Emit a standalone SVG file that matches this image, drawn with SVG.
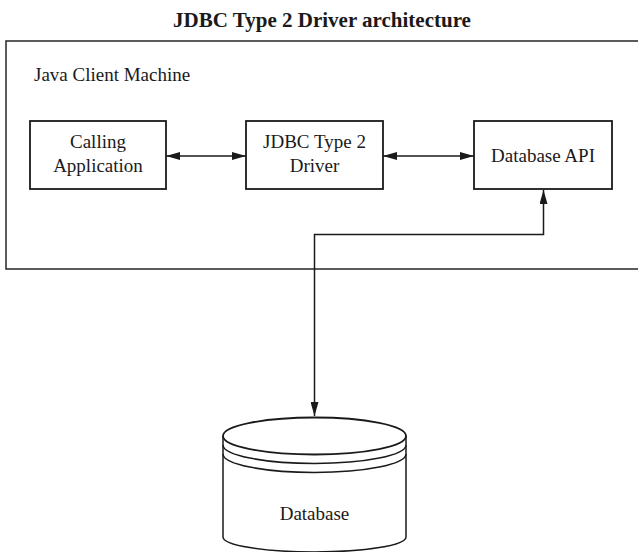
<svg xmlns="http://www.w3.org/2000/svg" width="638" height="552" viewBox="0 0 638 552">
<style>
.t{font-family:"Liberation Serif","Times New Roman",serif;font-size:19px;fill:#1a1a1a;text-anchor:middle}
.box{fill:#fff;stroke:#1a1a1a;stroke-width:1.8}
.ln{fill:none;stroke:#1a1a1a;stroke-width:1.5}
</style>
<defs>
<marker id="ah" viewBox="0 0 14 8" refX="14" refY="4" markerWidth="14" markerHeight="8" markerUnits="userSpaceOnUse" orient="auto-start-reverse">
<path d="M0,0 L14,4 L0,8 Z" fill="#1a1a1a"/>
</marker>
</defs>
<rect width="638" height="552" fill="#fff"/>
<text x="322" y="27" class="t" style="font-weight:bold;font-size:21px">JDBC Type 2 Driver architecture</text>
<g id="client-machine">
<rect x="6" y="41" width="640" height="228" fill="none" stroke="#333" stroke-width="1.6"/>
<text x="34" y="81" class="t" style="text-anchor:start">Java Client Machine</text>
</g>
<g id="calling-app">
<rect class="box" x="30" y="121" width="136" height="68"/>
<text class="t" x="98" y="148">Calling</text>
<text class="t" x="98" y="171.5">Application</text>
</g>
<g id="jdbc-driver">
<rect class="box" x="246" y="121" width="137" height="68"/>
<text class="t" x="314.5" y="148">JDBC Type 2</text>
<text class="t" x="314.5" y="171.5">Driver</text>
</g>
<g id="database-api">
<rect class="box" x="474" y="121" width="138" height="68"/>
<text class="t" x="543" y="161.5">Database API</text>
</g>
<g id="database">
<path class="ln" d="M223,436 L223,537 A91.5,15 0 0 0 406,537 L406,436" fill="#fff" stroke-width="1.8"/>
<ellipse cx="314.5" cy="436" rx="91.5" ry="18.5" fill="#fff" stroke="#1a1a1a" stroke-width="1.8"/>
<path class="ln" d="M223,445 A91.5,18.5 0 0 0 406,445"/>
<path class="ln" d="M223,454 A91.5,18.5 0 0 0 406,454"/>
<text class="t" x="314.5" y="520">Database</text>
</g>
<g id="connectors">
<line class="ln" x1="166" y1="156" x2="246" y2="156" marker-start="url(#ah)" marker-end="url(#ah)"/>
<line class="ln" x1="383" y1="156" x2="474" y2="156" marker-start="url(#ah)" marker-end="url(#ah)"/>
<path class="ln" d="M314.5,416 L314.5,234.5 L543.5,234.5 L543.5,190" marker-start="url(#ah)" marker-end="url(#ah)"/>
</g>
</svg>
